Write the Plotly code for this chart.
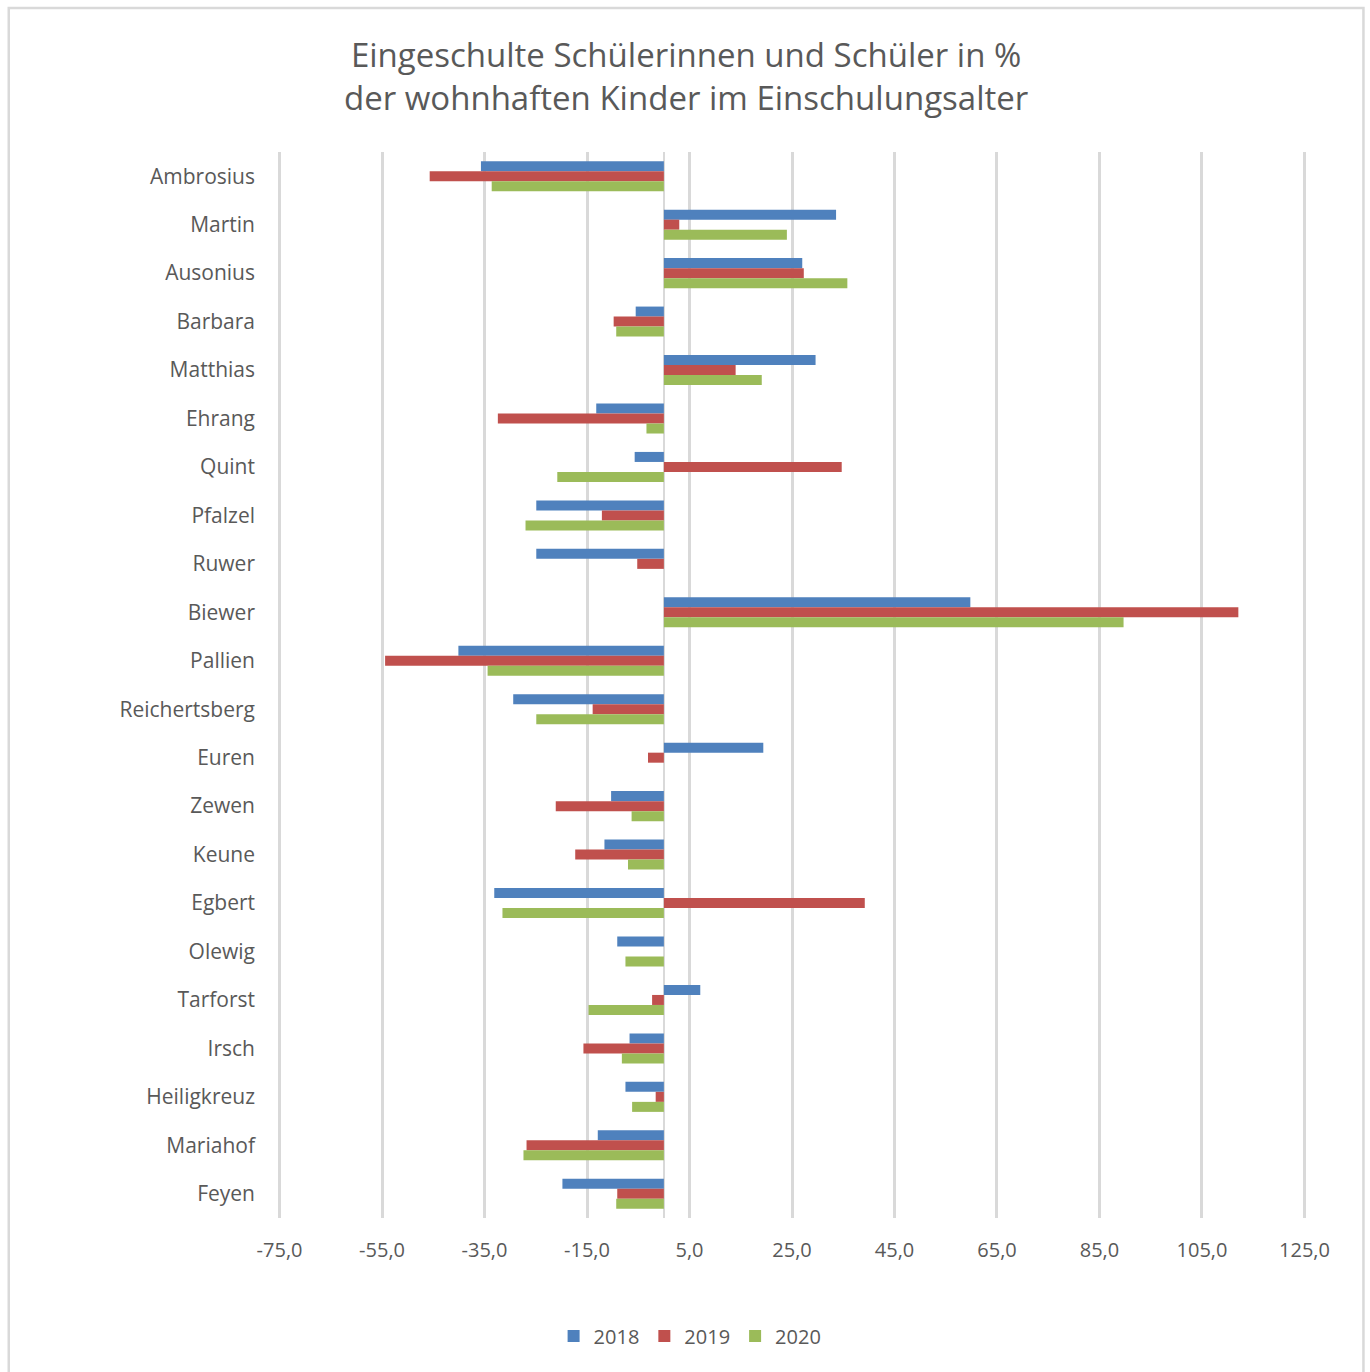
import plotly.graph_objects as go

categories = ["Ambrosius", "Martin", "Ausonius", "Barbara", "Matthias", "Ehrang", "Quint",
              "Pfalzel", "Ruwer", "Biewer", "Pallien", "Reichertsberg", "Euren", "Zewen",
              "Keune", "Egbert", "Olewig", "Tarforst", "Irsch", "Heiligkreuz", "Mariahof", "Feyen"]

v2018 = [-35.7, 33.6, 27.0, -5.5, 29.6, -13.2, -5.7, -24.9, -24.9, 59.8, -40.1, -29.4,
         19.4, -10.3, -11.6, -33.1, -9.1, 7.1, -6.7, -7.5, -12.9, -19.8]
v2019 = [-45.7, 3.0, 27.3, -9.8, 14.0, -32.4, 34.7, -12.1, -5.2, 112.1, -54.4, -13.9,
         -3.1, -21.1, -17.3, 39.2, None, -2.3, -15.7, -1.6, -26.8, -9.1]
v2020 = [-33.6, 24.0, 35.8, -9.3, 19.1, -3.4, -20.8, -27.0, None, 89.7, -34.4, -24.9,
         None, -6.3, -7.0, -31.5, -7.5, -14.7, -8.2, -6.2, -27.4, -9.3]

series = [("2018", v2018, "#4F81BD"), ("2019", v2019, "#C0504D"), ("2020", v2020, "#9BBB59")]
tick_vals = [-75, -55, -35, -15, 5, 25, 45, 65, 85, 105, 125]
tick_text = [f"{v:.1f}".replace(".", ",") for v in tick_vals]

FONT = "Open Sans"
GREY = "#595959"

fig = go.Figure()
for name, vals, col in series:
    fig.add_trace(go.Bar(
        y=categories, x=vals, name=name, orientation="h",
        marker=dict(color=col, line=dict(width=0)),
    ))

W, H = 1370, 1372
L, R, T, B = 277.5, 63.5, 152, 154
pw, ph = W - L - R, H - T - B

def px_x(x):
    return (x - L) / pw

def px_y(y):
    return (H - B - y) / ph

fig.update_layout(
    width=W, height=H,
    margin=dict(l=L, r=R, t=T, b=B),
    paper_bgcolor="white", plot_bgcolor="white",
    barmode="group", bargap=0.38, bargroupgap=0,
    font=dict(family=FONT, color=GREY, size=20),
    title=dict(
        text="Eingeschulte Schülerinnen und Schüler in %<br>der wohnhaften Kinder im Einschulungsalter",
        x=px_x(686), xref="paper", xanchor="center",
        y=1 - 67 / H, yref="container", yanchor="middle",
        font=dict(family=FONT, size=33, color=GREY),
    ),
    xaxis=dict(
        range=[-75.3, 125.3], tickvals=tick_vals, ticktext=tick_text,
        showgrid=True, gridcolor="#D9D9D9", gridwidth=2.5,
        zeroline=True, zerolinecolor="#D9D9D9", zerolinewidth=1.5,
        showline=False, ticks="", ticklabelstandoff=18,
        tickfont=dict(size=20, color=GREY),
    ),
    yaxis=dict(
        autorange="reversed", showgrid=False, zeroline=False, showline=False,
        ticks="", ticklabelstandoff=22, tickfont=dict(size=21, color=GREY),
    ),
    legend=dict(
        orientation="h", x=px_x(690), xanchor="center",
        y=px_y(1336), yanchor="middle",
        font=dict(size=20, color=GREY), itemwidth=30, tracegroupgap=0,
    ),
    shapes=[dict(
        type="rect", xref="paper", yref="paper",
        x0=px_x(8), x1=px_x(1364), y0=px_y(1390), y1=px_y(8),
        line=dict(color="#D9D9D9", width=2.5), fillcolor="rgba(0,0,0,0)",
    )],
)

fig.write_html("out.html")
